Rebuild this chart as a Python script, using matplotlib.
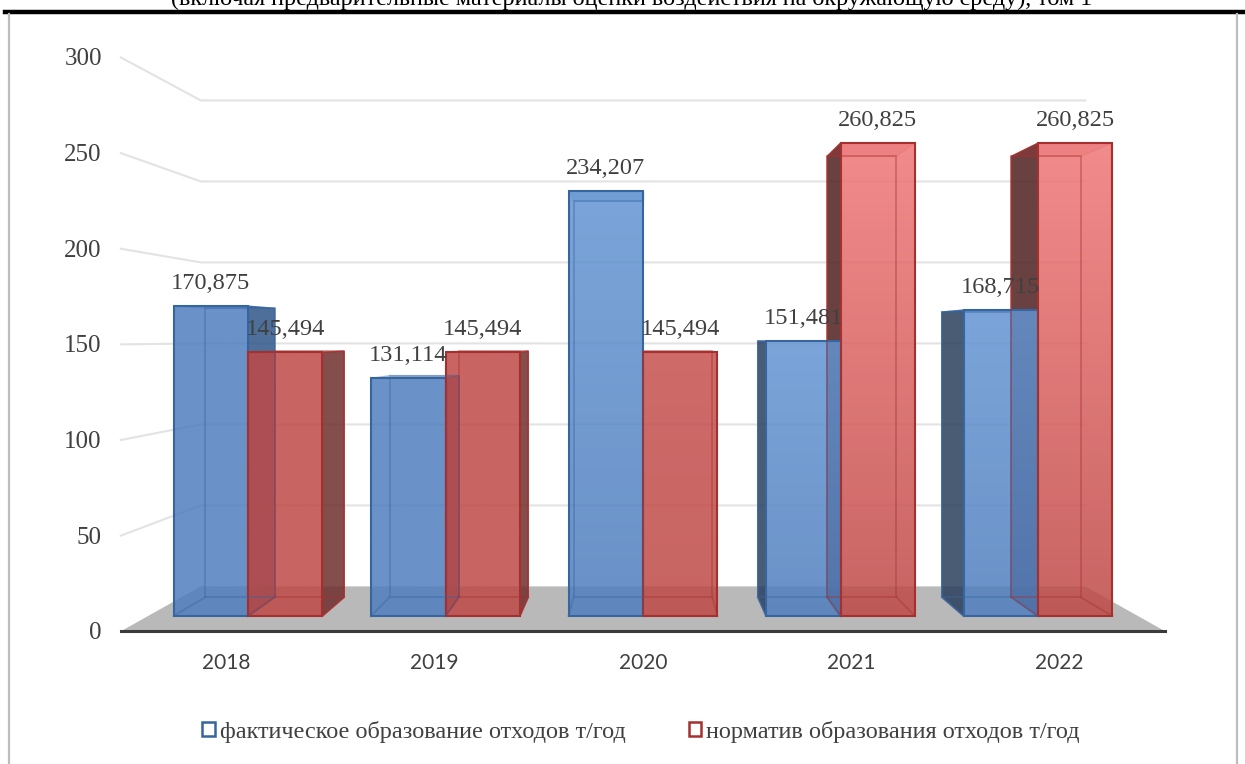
import numpy as np
import matplotlib
matplotlib.use('Agg')
import matplotlib.pyplot as plt
from matplotlib.lines import Line2D
from matplotlib.patches import Patch, Polygon

years = ['2018', '2019', '2020', '2021', '2022']
fact = [170.875, 131.114, 234.207, 151.481, 168.715]
norm = [145.494, 145.494, 145.494, 260.825, 260.825]
value_ticks = [0, 50, 100, 150, 200, 250, 300]
fact_name = 'фактическое образование отходов т/год'
norm_name = 'норматив образования отходов т/год'
header = '(включая предварительные материалы оценки воздействия на окружающую среду), том 1'

W, H = 1245, 764
X_PX = 197.5      # pixels per category
Y_PX = 1.813      # pixels per value unit on the bar front plane
X0_PX = 248       # pixel of the first category
Y0_PX = 616       # pixel of value 0

# perspective: scale about a vanishing point, s=1 is the bars' front plane
VP_X = 2.0
VP_V = 153.3
S_FLOOR = 1.055
S_BAR_BACK = 0.932
S_WALL = 0.8935
WALL_HALF = 2.506
BAR_W = 0.377

SERIF = 'Liberation Serif'
TEXT = '#404040'

BLUE = dict(base=(79, 126, 190), light=(99, 149, 211), edge='#37659f',
            side_right='#2a3f5c', side_left='#2f5688')
RED = dict(base=(190, 73, 70), light=(240, 118, 118), edge='#a5302f',
           side_right='#4f2020', side_left='#6f2f2e')
fact_tint = [0, 0, 1, 1, 1]
norm_tint = [0, 0, 0.15, 1, 1]


def project(x, v, s):
    return VP_X + (x - VP_X) * s, VP_V + (v - VP_V) * s


def gradient_face(ax, x0, x1, top, col, tint, alpha=0.85):
    # vertical fill, from the base colour at the floor to the light one at the top
    base = np.array(col['base']) / 255
    light = np.array(col['light']) / 255
    t = np.linspace(1, 0, 64)[:, None] * tint
    rgb = base * (1 - t) + light * t
    img = np.column_stack([rgb, np.full(64, alpha)])[:, None, :]
    ax.imshow(img, extent=(x0, x1, 0, top), aspect='auto', zorder=6,
              interpolation='bilinear')
    ax.add_patch(Polygon([(x0, 0), (x1, 0), (x1, top), (x0, top)], fill=False,
                         ec=col['edge'], lw=1.5, zorder=7))


def bar_side(ax, x0, x1, top, col, i):
    bx0 = project(x0, 0, S_BAR_BACK)[0]
    bx1 = project(x1, 0, S_BAR_BACK)[0]
    dark = col['side_right'] if i > VP_X else col['side_left']
    ys = [project(x0, 0, S_BAR_BACK)[1], project(x0, top, S_BAR_BACK)[1]]

    # outer wall, only seen on the side turned to the middle of the chart
    if bx0 < x0 - 1e-6:
        pts = [(x0, 0), (x0, top), (bx0, ys[1]), (bx0, ys[0])]
        ax.add_patch(Polygon(pts, fc=dark, ec=col['edge'], lw=1, alpha=0.85, zorder=4))
    if bx1 > x1 + 1e-6:
        pts = [(x1, 0), (x1, top), (bx1, ys[1]), (bx1, ys[0])]
        ax.add_patch(Polygon(pts, fc=dark, ec=col['edge'], lw=1, alpha=0.85, zorder=4))

    # top lid
    pts = [(x0, top), (x1, top), (bx1, ys[1]), (bx0, ys[1])]
    ax.add_patch(Polygon(pts, fc=col['edge'], ec=col['edge'], lw=1, alpha=0.3, zorder=5))

    # inner edges seen through the glass
    ax.plot([bx0, bx0, bx1, bx1, bx0], [ys[1], ys[0], ys[0], ys[1], ys[1]],
            color=col['edge'], lw=1.4, alpha=0.38, zorder=8)
    ax.plot([x0, bx0], [0, ys[0]], color=col['edge'], lw=1.4, alpha=0.38, zorder=8)
    ax.plot([x1, bx1], [0, ys[0]], color=col['edge'], lw=1.4, alpha=0.38, zorder=8)


fig = plt.figure(figsize=(W / 100, H / 100), dpi=100)
ax = fig.add_axes([0, 0, 1, 1])

# page furniture around the chart
fig.add_artist(Line2D([5 / W, 1], [1 - 12 / H] * 2, color='black', lw=3.2))
fig.add_artist(Line2D([8.5 / W] * 2, [0, 1 - 14 / H], color='#bdbdbd', lw=1.6))
fig.add_artist(Line2D([1237 / W] * 2, [0, 1 - 14 / H], color='#bdbdbd', lw=1.6))
fig.text(632 / W, 1 - 5 / H, header, family=SERIF, fontsize=17.4, color='black',
         ha='center', va='baseline')

# wall and side grid lines
xl_front = VP_X - WALL_HALF
xr_front = VP_X + WALL_HALF
for tick in value_ticks[1:]:
    ax.plot(*zip(project(xl_front, tick, S_FLOOR), project(xl_front, tick, S_WALL),
                 project(xr_front, tick, S_WALL)),
            color='#e3e3e3', lw=1.5, zorder=1, solid_joinstyle='miter')

# floor
floor = [project(xl_front, 0, S_FLOOR), project(xr_front, 0, S_FLOOR),
         project(xr_front, 0, S_WALL), project(xl_front, 0, S_WALL)]
ax.add_patch(Polygon(floor, fc='#b9b9b9', ec='none', zorder=2))
ax.plot(*zip(floor[0], floor[1]), color='#3a3a3a', lw=2.2, zorder=3)

for i, (f, n) in enumerate(zip(fact, norm)):
    bar_side(ax, i - BAR_W, i, f, BLUE, i)
    bar_side(ax, i, i + BAR_W, n, RED, i)
    gradient_face(ax, i - BAR_W, i, f, BLUE, fact_tint[i])
    gradient_face(ax, i, i + BAR_W, n, RED, norm_tint[i])
    for xc, val in ((i - BAR_W / 2, f), (i + BAR_W / 2, n)):
        ax.annotate(f'{val:.3f}'.replace('.', ','), (xc, val), xytext=(0, 23),
                    textcoords='offset pixels', ha='center', va='center',
                    family=SERIF, fontsize=17.6, color=TEXT, zorder=10)

for tick in value_ticks:
    ax.annotate(str(tick), project(xl_front, tick, S_FLOOR), xytext=(-19, -2),
                textcoords='offset pixels', ha='right', va='center',
                family=SERIF, fontsize=18, color=TEXT, zorder=10)

for i, year in enumerate(years):
    ax.annotate(year, project(i, 0, S_FLOOR), xytext=(0, -32),
                textcoords='offset pixels', ha='center', va='center',
                family='Lato', fontsize=15, color=TEXT, zorder=10)

ax.set_xlim((0 - X0_PX) / X_PX, (W - X0_PX) / X_PX)
ax.set_ylim((Y0_PX - H) / Y_PX, Y0_PX / Y_PX)
ax.axis('off')

handles = [Patch(fc='white', ec=BLUE['edge'], lw=1.8, label=fact_name),
           Patch(fc='white', ec=RED['edge'], lw=1.8, label=norm_name)]
fig.legend(handles=handles, loc='center', bbox_to_anchor=(641 / W, 1 - 732 / H), ncol=2,
           frameon=False, handlelength=0.52, handleheight=0.52, handletextpad=0.2,
           columnspacing=2.6, borderpad=0, labelcolor=TEXT,
           prop={'family': SERIF, 'size': 17.45})

fig.savefig('out.png', dpi=100)
